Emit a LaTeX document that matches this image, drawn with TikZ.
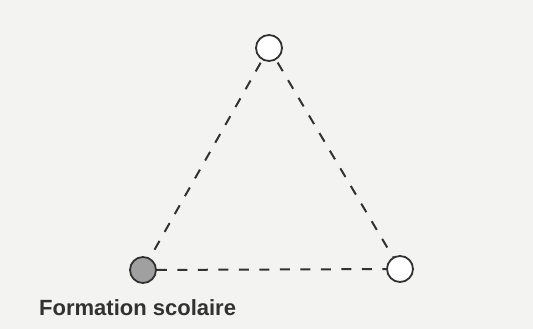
\documentclass[tikz,border=0pt]{standalone}
\usepackage{fontspec}
\setmainfont{Liberation Sans}
\definecolor{bg}{RGB}{243,243,241}
\definecolor{ink}{RGB}{50,50,50}
\definecolor{dot}{RGB}{160,160,160}
\begin{document}
\begin{tikzpicture}[x=1pt,y=1pt,
  vertex/.style={circle,draw=ink,line width=1.8pt,minimum size=26pt,inner sep=0pt,fill=white},
  link/.style={draw=ink,line width=2pt,dash pattern=on 10pt off 10.5pt}]
\fill[bg] (0,0) rectangle (533,329);
\useasboundingbox (0,0) rectangle (533,329);
\node[vertex] (top) at (269,281) {};
\node[vertex,fill=dot] (bl) at (143,59) {};
\node[vertex] (br) at (400,60) {};
\draw[link,shorten <=3pt] (top) -- (bl);
\draw[link,shorten <=3pt] (top) -- (br);
\draw[link] (bl) -- (br);
\node[anchor=base west,inner sep=0pt,text=ink,font=\fontsize{22}{24}\selectfont\bfseries] (lbl) at (39,13) {Formation scolaire};
\end{tikzpicture}
\end{document}
